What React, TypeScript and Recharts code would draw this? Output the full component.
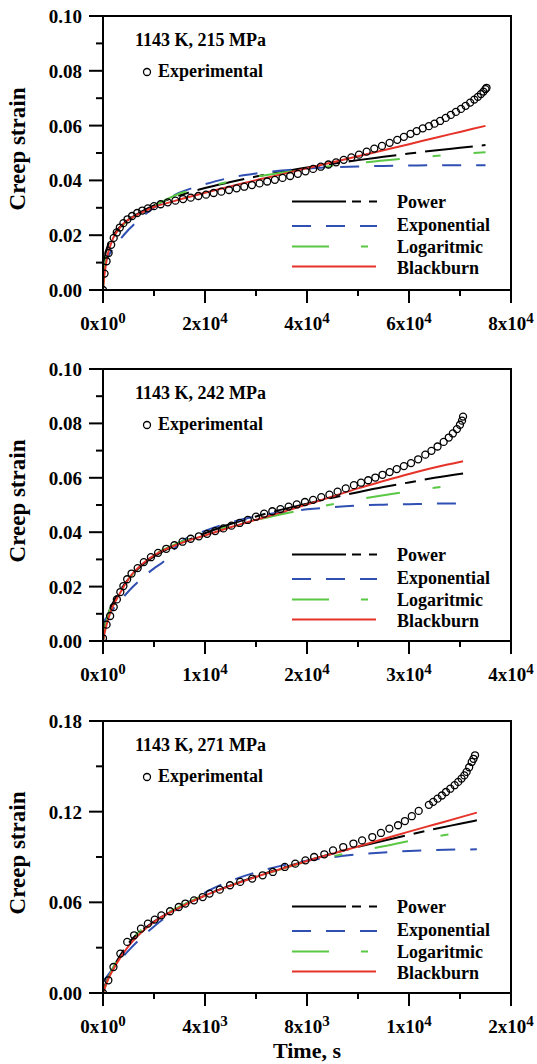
import React from 'react';
import { ComposedChart, Line, Scatter, XAxis, YAxis, ReferenceArea, Legend, Label } from 'recharts';

const FONT = '"Liberation Serif", "Times New Roman", Times, serif';

// ---- 1143 K, 215 MPa ----
const P1_EXP = [
  [0, 0], [300, 0.006], [700, 0.0105], [1100, 0.0135], [1600, 0.0165], [2100, 0.019], [2700, 0.021],
  [3300, 0.0228], [4000, 0.0244], [4800, 0.0258], [5700, 0.027], [6700, 0.0281], [7700, 0.029],
  [8800, 0.0298], [10000, 0.0306], [11300, 0.0313], [12700, 0.032], [14200, 0.0326], [15700, 0.0332],
  [17200, 0.0337], [18700, 0.0343], [20200, 0.0348], [21700, 0.0354], [23200, 0.0359], [24700, 0.0365],
  [26200, 0.0371], [27700, 0.0377], [29200, 0.0383], [30700, 0.0389], [32200, 0.0396], [33700, 0.0402],
  [35200, 0.0409], [36700, 0.0416], [38200, 0.0424], [39700, 0.0433], [41200, 0.0442], [42700, 0.045],
  [44200, 0.0458], [45700, 0.0466], [47200, 0.0475], [48700, 0.0484], [50200, 0.0494], [51700, 0.0505],
  [53200, 0.0516], [54700, 0.0526], [56200, 0.0537], [57700, 0.0548], [59000, 0.0559], [60300, 0.057],
  [61500, 0.058], [62700, 0.059], [63900, 0.0598], [65000, 0.0607], [66100, 0.0617], [67200, 0.0628],
  [68200, 0.0639], [69200, 0.065], [70200, 0.0661], [71100, 0.0672], [72000, 0.0684], [72800, 0.0695],
  [73500, 0.0705], [74100, 0.0715], [74600, 0.0724], [75000, 0.0733], [75200, 0.0738],
];
const P1_POWER = [
  [0, 0], [50, 0.0065], [200, 0.0098], [500, 0.0134], [1000, 0.0165], [2000, 0.02], [3000, 0.0224],
  [4000, 0.0242], [6000, 0.0269], [8000, 0.0291], [10000, 0.0309], [15000, 0.0345], [20000, 0.0372],
  [25000, 0.0394], [30000, 0.0414], [35000, 0.0431], [40000, 0.0447], [45000, 0.0461], [50000, 0.0474],
  [55000, 0.0486], [60000, 0.0498], [65000, 0.0509], [70000, 0.0519], [75000, 0.0529],
];
const P1_EXPO = [
  [0, 0.0085], [1000, 0.0122], [2000, 0.0153], [3000, 0.0177], [4000, 0.0199], [5000, 0.022],
  [6000, 0.0238], [8000, 0.0272], [10000, 0.03], [12500, 0.033], [15000, 0.0355], [17500, 0.0372],
  [20000, 0.0386], [25000, 0.041], [30000, 0.0425], [35000, 0.0436], [40000, 0.0443], [45000, 0.0448],
  [50000, 0.0451], [55000, 0.0453], [60000, 0.0454], [65000, 0.0455], [70000, 0.0455], [75000, 0.0455],
];
const P1_LOG = [
  [0, 0], [200, 0.006], [500, 0.0105], [1000, 0.0145], [2000, 0.019], [3000, 0.0218], [4000, 0.0238],
  [6000, 0.0268], [8000, 0.029], [10000, 0.0308], [12500, 0.0331], [15000, 0.0352], [17500, 0.0365],
  [20000, 0.0376], [25000, 0.0396], [30000, 0.0413], [35000, 0.0428], [40000, 0.0441], [45000, 0.0453],
  [50000, 0.0463], [55000, 0.0473], [60000, 0.0481], [65000, 0.0489], [70000, 0.0496], [75000, 0.0503],
];
const P1_BLACKBURN = [
  [0, 0], [250, 0.005], [500, 0.0085], [1000, 0.0135], [1500, 0.0165], [2000, 0.019], [3000, 0.022],
  [4000, 0.0242], [5000, 0.0257], [6000, 0.0268], [8000, 0.0286], [10000, 0.0303], [12500, 0.0317],
  [15000, 0.033], [20000, 0.0355], [25000, 0.0378], [30000, 0.0401], [35000, 0.0422], [40000, 0.0444],
  [45000, 0.0466], [50000, 0.0488], [55000, 0.051], [60000, 0.0532], [65000, 0.0555], [70000, 0.0577],
  [75000, 0.0599],
];
const P1_XMAJOR = [0, 20000, 40000, 60000, 80000];
const P1_XMINOR = [10000, 30000, 50000, 70000];
const P1_XLABELS = [['0x10', '0'], ['2x10', '4'], ['4x10', '4'], ['6x10', '4'], ['8x10', '4']];

// ---- 1143 K, 242 MPa ----
const P2_EXP = [
  [0, 0.001], [350, 0.006], [700, 0.0092], [1050, 0.0125], [1360, 0.0153], [1700, 0.018], [2000, 0.0202],
  [2370, 0.0227], [2800, 0.0248], [3400, 0.0268], [4000, 0.029], [4700, 0.0308], [5400, 0.0324],
  [6200, 0.0339], [7000, 0.0352], [7800, 0.0365], [8600, 0.0376], [9400, 0.0385], [10200, 0.0394],
  [11000, 0.0404], [11800, 0.0414], [12600, 0.0424], [13400, 0.0434], [14200, 0.0445], [15000, 0.0457],
  [15800, 0.0468], [16600, 0.0477], [17400, 0.0485], [18200, 0.0494], [19000, 0.0502], [19800, 0.0511],
  [20600, 0.0519], [21400, 0.0529], [22200, 0.0538], [23000, 0.0549], [23800, 0.0561], [24600, 0.0573],
  [25300, 0.0582], [26000, 0.0591], [26700, 0.0601], [27400, 0.0611], [28100, 0.0621], [28800, 0.0632],
  [29500, 0.0643], [30200, 0.0654], [30900, 0.0668], [31600, 0.0685], [32200, 0.0699], [32800, 0.0715],
  [33400, 0.0732], [33900, 0.0748], [34300, 0.0763], [34700, 0.0779], [35000, 0.0795], [35200, 0.081],
  [35300, 0.0825],
];
const P2_POWER = [
  [0, 0], [200, 0.0058], [500, 0.0098], [1000, 0.0142], [2000, 0.0203], [3000, 0.0249], [4000, 0.0284],
  [5000, 0.0311], [7500, 0.0358], [10000, 0.0396], [12500, 0.043], [15000, 0.0458], [17500, 0.0483],
  [20000, 0.0505], [22500, 0.0527], [25000, 0.0547], [27500, 0.0566], [30000, 0.0583], [32500, 0.06],
  [35300, 0.0616],
];
const P2_EXPO = [
  [0, 0.0068], [1000, 0.0118], [2000, 0.0162], [3000, 0.0202], [4000, 0.0237], [5000, 0.0267],
  [6000, 0.0294], [7500, 0.036], [10000, 0.0405], [12500, 0.0436], [15000, 0.0458], [17500, 0.0473],
  [20000, 0.0484], [22500, 0.0492], [25000, 0.0498], [27500, 0.0501], [30000, 0.0503], [32500, 0.0505],
  [35300, 0.0506],
];
const P2_LOG = [
  [0, 0], [200, 0.0052], [500, 0.0095], [1000, 0.0142], [2000, 0.0205], [3000, 0.0248], [4000, 0.0285],
  [5000, 0.0316], [7500, 0.0362], [10000, 0.0395], [12500, 0.0422], [15000, 0.0445], [17500, 0.0466],
  [20000, 0.0485], [22500, 0.0503], [25000, 0.052], [27500, 0.0536], [30000, 0.055], [32500, 0.0563],
  [35300, 0.0576],
];
const P2_BLACKBURN = [
  [0, 0], [250, 0.0045], [500, 0.008], [1000, 0.013], [1500, 0.0165], [2000, 0.0198], [2500, 0.0228],
  [3000, 0.0252], [4000, 0.0288], [5000, 0.0315], [6000, 0.0335], [7500, 0.0358], [10000, 0.0388],
  [12500, 0.0418], [15000, 0.0446], [17500, 0.0473], [20000, 0.0502], [22500, 0.0531], [25000, 0.0561],
  [27500, 0.0588], [30000, 0.0614], [32500, 0.0638], [35300, 0.0661],
];
const P2_XMAJOR = [0, 10000, 20000, 30000, 40000];
const P2_XMINOR = [5000, 15000, 25000, 35000];
const P2_XLABELS = [['0x10', '0'], ['1x10', '4'], ['2x10', '4'], ['3x10', '4'], ['4x10', '4']];

// ---- 1143 K, 271 MPa ----
const P3_EXP = [
  [0, 0], [210, 0.0084], [410, 0.0172], [680, 0.0261], [950, 0.0338], [1220, 0.0382], [1490, 0.0426],
  [1760, 0.0459], [2030, 0.0486], [2290, 0.0514], [2630, 0.0541], [2970, 0.0569], [3230, 0.0592],
  [3570, 0.0613], [3910, 0.0635], [4180, 0.0658], [4580, 0.0684], [4980, 0.0713], [5380, 0.0735],
  [5850, 0.0757], [6260, 0.0779], [6660, 0.0801], [7130, 0.0834], [7540, 0.0856], [7940, 0.0878],
  [8280, 0.09], [8680, 0.0918], [9020, 0.0944], [9420, 0.0966], [9820, 0.0989], [10160, 0.101],
  [10560, 0.1032], [10900, 0.1059], [11230, 0.1088], [11570, 0.111], [11840, 0.1138], [12110, 0.117],
  [12380, 0.1205], [12780, 0.1245], [12950, 0.1265], [13120, 0.1286], [13290, 0.1307], [13450, 0.133],
  [13620, 0.1352], [13790, 0.1375], [13930, 0.1397], [14060, 0.1419], [14170, 0.144], [14260, 0.1463],
  [14360, 0.1494], [14460, 0.1529], [14530, 0.155], [14590, 0.1573],
];
const P3_POWER = [
  [0, 0], [100, 0.006], [200, 0.0098], [500, 0.0198], [1000, 0.0328], [2000, 0.0472], [3000, 0.0566],
  [4000, 0.0645], [5000, 0.0712], [6000, 0.0772], [7000, 0.0826], [8000, 0.0876], [9000, 0.0923],
  [10000, 0.0967], [11000, 0.1008], [12000, 0.1047], [13000, 0.1085], [14000, 0.112], [14660, 0.1143],
];
const P3_EXPO = [
  [0, 0.0073], [500, 0.0185], [1000, 0.028], [1500, 0.0365], [2000, 0.044], [3000, 0.0565],
  [4000, 0.0665], [5000, 0.0742], [6000, 0.0799], [7000, 0.0843], [8000, 0.0875], [9000, 0.0899],
  [10000, 0.0917], [11000, 0.093], [12000, 0.094], [13000, 0.0946], [14660, 0.0951],
];
const P3_LOG = [
  [0, 0], [200, 0.0095], [500, 0.02], [1000, 0.033], [2000, 0.0478], [3000, 0.0572], [4000, 0.065],
  [5000, 0.0712], [6000, 0.0768], [7000, 0.082], [8000, 0.087], [9000, 0.0905], [10000, 0.0938],
  [11000, 0.0971], [12000, 0.1005], [13000, 0.1035], [14000, 0.106], [14660, 0.1075],
];
const P3_BLACKBURN = [
  [0, 0], [200, 0.009], [500, 0.0185], [1000, 0.031], [1500, 0.04], [2000, 0.047], [3000, 0.0565],
  [4000, 0.0645], [5000, 0.071], [6000, 0.0768], [7000, 0.0822], [8000, 0.0874], [9000, 0.0922],
  [10000, 0.097], [11000, 0.1019], [12000, 0.1068], [13000, 0.1115], [14000, 0.1162], [14660, 0.1194],
];
const P3_XMAJOR = [0, 4000, 8000, 12000, 16000];
const P3_XMINOR = [2000, 6000, 10000, 14000];
const P3_XLABELS = [['0x10', '0'], ['4x10', '3'], ['8x10', '3'], ['1x10', '4'], ['2x10', '4']];

const Y_MAJOR_010 = [0, 0.02, 0.04, 0.06, 0.08, 0.1];
const Y_MINOR_010 = [0.01, 0.03, 0.05, 0.07, 0.09];
const Y_LABELS_010 = ['0.00', '0.02', '0.04', '0.06', '0.08', '0.10'];
const Y_MAJOR_018 = [0, 0.06, 0.12, 0.18];
const Y_MINOR_018 = [0.03, 0.09, 0.15];
const Y_LABELS_018 = ['0.00', '0.06', '0.12', '0.18'];

const MODEL_NAMES = ['Power', 'Exponential', 'Logaritmic', 'Blackburn'];
const MODEL_COLORS = ['#000000', '#2f4fb3', '#5ac845', '#e5332a'];
const PLOT_DASH = ['48 9 11 9', '19 15', '34 33 8 33', undefined];
const LEGEND_DASH = ['54 6 9 8 8', '19 15', '37 32 7', undefined];
const LEGEND_END = [377, 377, 368, 376];

const toRows = (pairs: number[][]) => pairs.map(([t, e]) => ({ t, e }));

const near = (list: number[], v: number) => list.findIndex((m) => Math.abs(m - v) < 1e-9);

function XTick(props: any) {
  const { x, y, payload, majors, labels } = props;
  const i = near(majors, payload.value);
  return (
    <g>
      <line x1={x} y1={y} x2={x} y2={y + (i >= 0 ? 13 : 6)} stroke="#000" strokeWidth={2} />
      {i >= 0 && (
        <text x={x} y={y + 40} textAnchor="middle" fontFamily={FONT} fontWeight="bold" fontSize={19} fill="#000">
          {labels[i][0]}
          <tspan dy={-7} fontSize={15}>{labels[i][1]}</tspan>
        </text>
      )}
    </g>
  );
}

function YTick(props: any) {
  const { x, y, payload, majors, labels } = props;
  const i = near(majors, payload.value);
  return (
    <g>
      <line x1={x - (i >= 0 ? 14 : 7)} y1={y} x2={x} y2={y} stroke="#000" strokeWidth={2} />
      {i >= 0 && (
        <text x={x - 21} y={y + 7} textAnchor="end" fontFamily={FONT} fontWeight="bold" fontSize={19} fill="#000">
          {labels[i]}
        </text>
      )}
    </g>
  );
}

function Overlay({ title }: { title: string }) {
  const txt = { fontFamily: FONT, fontWeight: 'bold' as const, fontSize: 18, fill: '#000' };
  const lineY = [201.5, 226, 246.5, 266.5];
  const textY = [207.5, 230.5, 252.5, 274];
  return (
    <svg width={537} height={300} style={{ display: 'block', overflow: 'visible' }}>
      <text x={135} y={45.5} {...txt}>{title}</text>
      <circle cx={147} cy={72} r={3.5} fill="none" stroke="#000" strokeWidth={1.3} />
      <text x={158} y={76.5} {...txt}>Experimental</text>
      {MODEL_NAMES.map((name, i) => (
        <g key={name}>
          <line x1={292} x2={LEGEND_END[i]} y1={lineY[i]} y2={lineY[i]} stroke={MODEL_COLORS[i]}
            strokeWidth={2} strokeDasharray={LEGEND_DASH[i]} />
          <text x={397} y={textY[i]} {...txt}>{name}</text>
        </g>
      ))}
    </svg>
  );
}

const Dot = (p: any) => <circle cx={p.cx} cy={p.cy} r={3.5} fill="none" stroke="#000" strokeWidth={1.3} />;

function Panel(props: any) {
  const { top, plotH, xMax, yMax, xMajor, xMinor, xLabels, yMajor, yMinor, yLabels, title, exp, models, timeLabel } = props;
  const axisH = timeLabel ? 70 : 40;
  const height = 16 + plotH + axisH + (timeLabel ? 0 : 20);
  const xTicks = [...xMajor, ...xMinor].sort((a: number, b: number) => a - b);
  const yTicks = [...yMajor, ...yMinor].sort((a: number, b: number) => a - b);
  return (
    <div style={{ position: 'absolute', left: 0, top }}>
      <ComposedChart width={537} height={height} margin={{ top: 16, right: 26, left: 43, bottom: timeLabel ? 0 : 20 }}>
        <XAxis dataKey="t" type="number" domain={[0, xMax]} ticks={xTicks} interval={0} allowDataOverflow
          tickSize={0} tickMargin={0} tickLine={false} height={axisH}
          axisLine={{ stroke: '#000', strokeWidth: 2 }}
          tick={(p: any) => <XTick {...p} majors={xMajor} labels={xLabels} />}>
          {timeLabel && (
            <Label content={(p: any) => {
              const vb = p.viewBox || {};
              const cx = (vb.x ?? 103) + (vb.width ?? 408) / 2;
              const y = (vb.y ?? 16 + plotH) + 65;
              return (
                <text x={cx} y={y} textAnchor="middle" fontFamily={FONT} fontWeight="bold" fontSize={22} fill="#000">
                  Time, s
                </text>
              );
            }} />
          )}
        </XAxis>
        <YAxis type="number" domain={[0, yMax]} ticks={yTicks} interval={0} allowDataOverflow
          tickSize={0} tickMargin={0} tickLine={false} width={60}
          axisLine={{ stroke: '#000', strokeWidth: 2 }}
          tick={(p: any) => <YTick {...p} majors={yMajor} labels={yLabels} />}>
          <Label content={(p: any) => {
            const vb = p.viewBox || {};
            const cy = (vb.y ?? 16) + (vb.height ?? plotH) / 2 - 4;
            return (
              <text x={25} y={cy} transform={`rotate(-90 25 ${cy})`} textAnchor="middle" fontFamily={FONT}
                fontWeight="bold" fontSize={23} fill="#000">
                Creep strain
              </text>
            );
          }} />
        </YAxis>
        <ReferenceArea x1={0} x2={xMax} y1={0} y2={yMax} fill="none" fillOpacity={0} stroke="#000"
          strokeWidth={2} ifOverflow="visible" />
        <Scatter data={toRows(exp)} dataKey="e" shape={Dot} isAnimationActive={false} />
        {models.map((m: number[][], i: number) => (
          <Line key={MODEL_NAMES[i]} data={toRows(m)} dataKey="e" type="monotone" stroke={MODEL_COLORS[i]}
            strokeWidth={2} strokeDasharray={PLOT_DASH[i]} dot={false} activeDot={false} isAnimationActive={false} />
        ))}
        <Legend layout="horizontal" verticalAlign="middle" align="center"
          wrapperStyle={{ position: 'absolute', left: 0, top: 0, width: 537, height: 300, pointerEvents: 'none' }}
          content={() => <Overlay title={title} />} />
      </ComposedChart>
    </div>
  );
}

export default function App() {
  return (
    <div style={{ position: 'absolute', left: 0, top: 0, width: 537, height: 1064, background: '#fff' }}>
      <Panel top={0} plotH={274} xMax={80000} yMax={0.1} xMajor={P1_XMAJOR} xMinor={P1_XMINOR} xLabels={P1_XLABELS}
        yMajor={Y_MAJOR_010} yMinor={Y_MINOR_010} yLabels={Y_LABELS_010} title="1143 K, 215 MPa"
        exp={P1_EXP} models={[P1_POWER, P1_EXPO, P1_LOG, P1_BLACKBURN]} />
      <Panel top={353} plotH={272} xMax={40000} yMax={0.1} xMajor={P2_XMAJOR} xMinor={P2_XMINOR} xLabels={P2_XLABELS}
        yMajor={Y_MAJOR_010} yMinor={Y_MINOR_010} yLabels={Y_LABELS_010} title="1143 K, 242 MPa"
        exp={P2_EXP} models={[P2_POWER, P2_EXPO, P2_LOG, P2_BLACKBURN]} />
      <Panel top={705} plotH={272} xMax={16000} yMax={0.18} xMajor={P3_XMAJOR} xMinor={P3_XMINOR} xLabels={P3_XLABELS}
        yMajor={Y_MAJOR_018} yMinor={Y_MINOR_018} yLabels={Y_LABELS_018} title="1143 K, 271 MPa"
        exp={P3_EXP} models={[P3_POWER, P3_EXPO, P3_LOG, P3_BLACKBURN]} timeLabel />
    </div>
  );
}
